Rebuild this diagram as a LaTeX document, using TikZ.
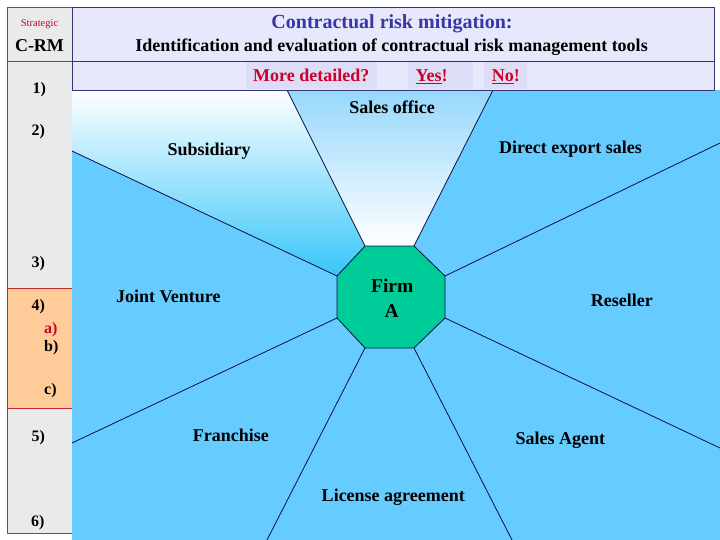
\documentclass[tikz,border=0pt]{standalone}
\usepackage{fontspec}
\setmainfont{Liberation Serif}
\definecolor{skyb}{RGB}{102,204,255}
\definecolor{lav}{RGB}{232,232,252}
\definecolor{tagbg}{RGB}{221,221,248}
\definecolor{navy}{RGB}{15,15,60}
\definecolor{hdrline}{RGB}{51,51,120}
\definecolor{redb}{RGB}{190,40,50}
\definecolor{grayc}{RGB}{234,234,234}
\definecolor{orangec}{RGB}{255,204,153}
\definecolor{redtxt}{RGB}{204,0,40}
\definecolor{titleblue}{RGB}{55,55,165}
\definecolor{firmg}{RGB}{0,204,153}
\definecolor{cyanb}{RGB}{55,198,250}
\definecolor{lightb}{RGB}{150,216,252}
\begin{document}
\begin{tikzpicture}[x=1pt,y=-1pt,line join=round,
  lbl/.style={font=\bfseries\fontsize{18}{20}\selectfont,text=black,inner sep=0pt,anchor=base},
  num/.style={font=\bfseries\fontsize{16}{18}\selectfont,text=black,inner sep=0pt,anchor=base west},
  tagtxt/.style={font=\bfseries\fontsize{18}{20}\selectfont,text=redtxt,inner sep=0pt,anchor=base},
  ray/.style={draw=navy,line width=0.8pt}]
\useasboundingbox (0,0) rectangle (720,540);
% left column
\fill[grayc] (7,7) rectangle (72,288);
\fill[orangec] (7,288) rectangle (72,408);
\fill[grayc] (7,408) rectangle (72,533);
\draw[redb,line width=0.8pt] (7,7) rectangle (72,533);
\draw[redb,line width=0.8pt] (7,61) -- (72,61) (7,288) -- (72,288) (7,408) -- (72,408);
% diagram area
\fill[skyb] (72,90) rectangle (720,540);
\coordinate (o1) at (365,246);
\coordinate (o2) at (414,246);
\coordinate (o3) at (445,276);
\coordinate (o4) at (445,318);
\coordinate (o5) at (414,348);
\coordinate (o6) at (365,348);
\coordinate (o7) at (337,318);
\coordinate (o8) at (337,276);
\coordinate (b1) at (287,90);
\coordinate (b2) at (493,90);
\coordinate (b3) at (720,143);
\coordinate (b4) at (720,448);
\coordinate (b5) at (512,540);
\coordinate (b6) at (267,540);
\coordinate (b7) at (72,443);
\coordinate (b8) at (72,151);
\coordinate (tl) at (72,90);
\shade[top color=white,bottom color=cyanb] (tl) -- (b1) -- (o1) -- (o8) -- (b8) -- cycle;
\shade[top color=lightb,bottom color=white] (b1) -- (b2) -- (o2) -- (o1) -- cycle;
\foreach \a/\b in {o1/b1,o2/b2,o3/b3,o4/b4,o5/b5,o6/b6,o7/b7,o8/b8}
  \draw[ray] (\a) -- (\b);
\filldraw[fill=firmg,draw=navy,line width=0.8pt] (o1) -- (o2) -- (o3) -- (o4) -- (o5) -- (o6) -- (o7) -- (o8) -- cycle;
% header
\fill[lav] (72,7) rectangle (714,90);
\draw[hdrline,line width=0.8pt] (72,7) rectangle (714,90);
\draw[hdrline,line width=0.8pt] (72,61) -- (714,61);
\fill[tagbg] (246,62) rectangle (377,89);
\fill[tagbg] (408,62) rectangle (473,89);
\fill[tagbg] (484,62) rectangle (527,89);
\node[lbl,text=titleblue,font=\bfseries\fontsize{20}{22}\selectfont] (title) at (392,29) {Contractual risk mitigation:};
\node[lbl] (subtitle) at (391.5,51.3) {Identification and evaluation of contractual risk management tools};
\node[tagtxt] (more) at (311.3,81.7) {More detailed?};
\node[tagtxt] (yes) at (431.7,81.7) {\underline{Yes}!};
\node[tagtxt] (no) at (505.8,81.7) {\underline{No}!};
% left column labels
\node[inner sep=0pt,anchor=base,text=redtxt,font=\fontsize{10.5}{12}\selectfont] (strat) at (39.5,26.5) {Strategic};
\node[lbl] (crm) at (39.5,51.7) {C-RM};
\node[num] (n1) at (32.5,93.5) {1)};
\node[num] (n2) at (31.5,136) {2)};
\node[num] (n3) at (31.5,267.3) {3)};
\node[num] (n4) at (31.5,310.7) {4)};
\node[num,text=redtxt] (na) at (44,333.3) {a)};
\node[num] (nb) at (44,351.7) {b)};
\node[num] (nc) at (44,394) {c)};
\node[num] (n5) at (31.5,441.7) {5)};
\node[num] (n6) at (31,526) {6)};
% diagram labels
\node[lbl] (sales) at (392.2,114) {Sales office};
\node[lbl] (subs) at (209.2,156) {Subsidiary};
\node[lbl] (direct) at (570.5,153.3) {Direct export sales};
\node[lbl] (jv) at (168.3,302.3) {Joint Venture};
\node[lbl] (res) at (621.8,306) {Reseller};
\node[lbl] (fran) at (230.8,441) {Franchise};
\node[lbl] (agent) at (560.3,444.3) {Sales Agent};
\node[lbl] (lic) at (393.3,501) {License agreement};
\node[lbl,font=\bfseries\fontsize{19.5}{21}\selectfont] (firm) at (392.2,292.7) {Firm};
\node[lbl,font=\bfseries\fontsize{19.5}{21}\selectfont] (firma) at (391.7,317.3) {A};
\end{tikzpicture}
\end{document}
